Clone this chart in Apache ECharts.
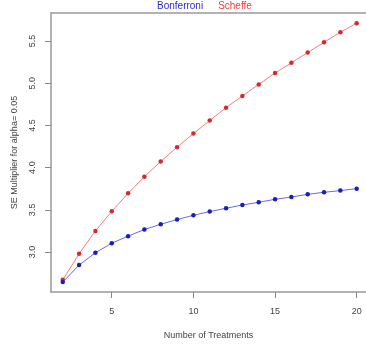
<!DOCTYPE html>
<html><head><meta charset="utf-8">
<script src="https://cdn.jsdelivr.net/npm/echarts@6/dist/echarts.min.js"></script>
<style>html,body{margin:0;padding:0;background:#fff}#c{width:366px;height:345px}</style>
</head><body><div id="c"></div>
<script>
const treatments = [2,3,4,5,6,7,8,9,10,11,12,13,14,15,16,17,18,19,20];
const bonferroni = [2.645,2.847,2.992,3.106,3.189,3.267,3.33,3.385,3.436,3.48,3.519,3.558,3.59,3.625,3.652,3.684,3.708,3.728,3.751];
const scheffe = [2.672,2.98,3.251,3.483,3.696,3.892,4.073,4.242,4.403,4.557,4.71,4.848,4.985,5.119,5.241,5.362,5.484,5.602,5.71];
const xTicks = [5,10,15,20];
const yTicks = [3.0,3.5,4.0,4.5,5.0,5.5];
const seriesNames = ['Bonferroni','Scheffe'];

const chart = echarts.init(document.getElementById('c'));
const font = 'Liberation Sans, Arial, sans-serif';
const boxLine = {show:true, lineStyle:{color:'#9a9a9a', width:1.5}};
const pair = (arr) => treatments.map((t,i)=>[t,arr[i]]);
chart.setOption({
  animation:false,
  backgroundColor:'#fff',
  legend:{
    top:-4, left:147, itemGap:10, icon:'none', itemWidth:0, itemHeight:0,
    data:[
      {name:seriesNames[0], textStyle:{color:'#2b2bd9'}},
      {name:seriesNames[1], textStyle:{color:'#f03a3a'}}
    ],
    textStyle:{fontFamily:font, fontSize:10}
  },
  grid:{left:51, right:0, top:13, bottom:52, show:false, containLabel:false},
  xAxis:[{
    type:'value', min:1.28, max:20.57,
    name:'Number of Treatments', nameLocation:'middle', nameGap:39,
    nameTextStyle:{fontFamily:font, fontSize:9, color:'#444'},
    axisLine:boxLine, splitLine:{show:false},
    axisTick:{show:true, customValues:xTicks, length:6, inside:false, lineStyle:{color:'#888'}},
    axisLabel:{customValues:xTicks, fontFamily:font, fontSize:9, color:'#444', margin:15}
  },{
    type:'value', min:1.28, max:20.57, position:'top',
    axisLine:boxLine, axisTick:{show:false}, axisLabel:{show:false}, splitLine:{show:false}
  }],
  yAxis:{
    type:'value', min:2.528, max:5.83,
    name:'SE Multiplier for alpha= 0.05', nameLocation:'middle', nameGap:32, nameRotate:90,
    nameTextStyle:{fontFamily:font, fontSize:9, color:'#444'},
    axisLine:boxLine, splitLine:{show:false},
    axisTick:{show:true, customValues:yTicks, length:6, lineStyle:{color:'#888'}},
    axisLabel:{customValues:yTicks, rotate:90, fontFamily:font, fontSize:9, color:'#444', margin:14,
      formatter:(v)=>v.toFixed(1)}
  },
  series:[
    {name:seriesNames[0], type:'line', data:pair(bonferroni), symbol:'circle', symbolSize:4.5,
     lineStyle:{color:'#6a6ae8', width:1}, itemStyle:{color:'#1c1cb8'}, z:3},
    {name:seriesNames[1], type:'line', data:pair(scheffe), symbol:'circle', symbolSize:4.5,
     lineStyle:{color:'#f57d7d', width:1}, itemStyle:{color:'#d42a2a'}, z:2}
  ]
});
</script></body></html>
